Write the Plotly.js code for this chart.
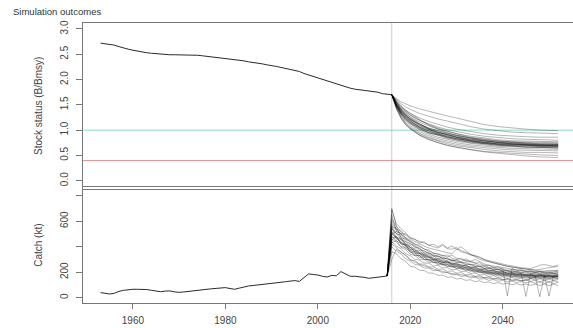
<!DOCTYPE html>
<html>
<head>
<meta charset="utf-8">
<script src="https://cdn.plot.ly/plotly-3.0.1.min.js"></script>
<style>html,body{margin:0;padding:0;background:#fff;}#chart{width:573px;height:328px;}</style>
</head>
<body>
<div id="chart"></div>
<script>
// ---------------- DATA ----------------
const histYears = [1953,1954,1955,1956,1957,1958,1959,1960,1961,1962,1963,1964,1965,1966,1967,1968,1969,1970,1971,1972,1973,1974,1975,1976,1977,1978,1979,1980,1981,1982,1983,1984,1985,1986,1987,1988,1989,1990,1991,1992,1993,1994,1995,1996,1997,1998,1999,2000,2001,2002,2003,2004,2005,2006,2007,2008,2009,2010,2011,2012,2013,2014,2015,2016];
const histStatus = [2.72,2.71,2.70,2.68,2.65,2.62,2.60,2.58,2.56,2.54,2.53,2.52,2.51,2.50,2.49,2.49,2.49,2.49,2.49,2.49,2.49,2.48,2.47,2.46,2.45,2.44,2.43,2.42,2.41,2.40,2.38,2.37,2.35,2.34,2.32,2.31,2.29,2.28,2.26,2.24,2.22,2.20,2.18,2.16,2.12,2.09,2.06,2.04,2.01,1.98,1.95,1.92,1.89,1.86,1.83,1.81,1.80,1.79,1.78,1.77,1.75,1.72,1.71,1.70];
// catch history 1953-2015
const histCatch = [40,32,29,35,50,58,64,66,66,66,64,58,50,47,52,53,46,42,45,50,54,56,60,66,70,73,77,79,72,66,75,85,92,96,100,105,104,112,115,118,125,130,134,128,160,186,182,178,168,162,175,172,205,186,168,168,165,160,152,157,160,162,170];

const projStatusYears = [2016,2017,2018,2019,2020,2022,2024,2026,2028,2030,2033,2036,2039,2042,2045,2048,2052];
const projStatus = [
 [1.70,1.62,1.56,1.52,1.48,1.42,1.37,1.32,1.28,1.24,1.17,1.11,1.07,1.04,1.02,1.00,0.99],
 [1.70,1.60,1.52,1.46,1.41,1.33,1.27,1.22,1.18,1.13,1.07,1.02,0.99,0.96,0.95,0.94,0.93],
 [1.70,1.57,1.47,1.39,1.33,1.24,1.17,1.11,1.06,1.02,0.97,0.93,0.90,0.88,0.87,0.86,0.86],
 [1.70,1.55,1.44,1.36,1.29,1.19,1.12,1.06,1.01,0.97,0.92,0.88,0.85,0.83,0.82,0.81,0.80],
 [1.70,1.54,1.42,1.33,1.26,1.16,1.08,1.02,0.97,0.93,0.88,0.84,0.81,0.79,0.78,0.77,0.77],
 [1.70,1.52,1.40,1.30,1.23,1.12,1.04,0.98,0.93,0.89,0.84,0.80,0.78,0.76,0.75,0.74,0.74],
 [1.70,1.51,1.38,1.28,1.20,1.09,1.01,0.95,0.90,0.86,0.81,0.78,0.75,0.73,0.72,0.71,0.71],
 [1.70,1.50,1.36,1.26,1.18,1.06,0.98,0.92,0.87,0.83,0.79,0.75,0.73,0.71,0.70,0.69,0.69],
 [1.70,1.49,1.34,1.23,1.15,1.03,0.95,0.89,0.84,0.80,0.76,0.73,0.70,0.69,0.68,0.67,0.67],
 [1.70,1.48,1.32,1.21,1.12,1.00,0.92,0.86,0.82,0.78,0.74,0.71,0.68,0.67,0.66,0.65,0.65],
 [1.70,1.47,1.30,1.18,1.09,0.97,0.89,0.83,0.79,0.75,0.71,0.68,0.66,0.64,0.63,0.63,0.62],
 [1.70,1.45,1.28,1.15,1.06,0.94,0.86,0.80,0.76,0.72,0.68,0.65,0.63,0.61,0.60,0.60,0.59],
 [1.70,1.44,1.26,1.13,1.04,0.92,0.84,0.78,0.73,0.69,0.65,0.62,0.59,0.57,0.56,0.56,0.55],
 [1.70,1.43,1.24,1.11,1.03,0.90,0.81,0.75,0.70,0.66,0.62,0.58,0.56,0.54,0.52,0.51,0.50],
 [1.70,1.42,1.23,1.10,1.02,0.90,0.82,0.75,0.70,0.66,0.61,0.57,0.54,0.51,0.49,0.47,0.46],
 [1.70,1.53,1.41,1.32,1.25,1.13,1.03,0.96,0.91,0.88,0.82,0.79,0.76,0.75,0.73,0.72,0.72],
 [1.70,1.56,1.45,1.37,1.30,1.20,1.10,1.02,0.95,0.90,0.84,0.79,0.76,0.74,0.72,0.71,0.70],
 [1.70,1.50,1.37,1.28,1.21,1.11,1.04,0.99,0.94,0.90,0.85,0.81,0.78,0.76,0.74,0.73,0.72],
 [1.70,1.46,1.31,1.20,1.13,1.02,0.95,0.90,0.86,0.82,0.77,0.73,0.70,0.68,0.67,0.66,0.66],
 [1.70,1.58,1.48,1.40,1.33,1.21,1.11,1.04,0.98,0.93,0.86,0.82,0.79,0.77,0.76,0.75,0.75],
 [1.70,1.49,1.35,1.25,1.17,1.07,1.00,0.94,0.89,0.85,0.80,0.76,0.73,0.72,0.71,0.70,0.69],
 [1.70,1.52,1.39,1.29,1.22,1.10,1.02,0.96,0.91,0.86,0.80,0.76,0.74,0.72,0.71,0.70,0.70],
 [1.70,1.48,1.33,1.24,1.16,1.05,0.99,0.92,0.88,0.83,0.79,0.74,0.72,0.70,0.70,0.68,0.68],
 [1.70,1.51,1.36,1.25,1.19,1.06,0.97,0.93,0.86,0.84,0.78,0.76,0.72,0.71,0.69,0.69,0.68],
 [1.70,1.47,1.34,1.22,1.14,1.04,0.94,0.91,0.85,0.81,0.75,0.74,0.71,0.69,0.66,0.66,0.64],
 [1.70,1.55,1.40,1.31,1.22,1.12,1.02,0.95,0.92,0.86,0.82,0.78,0.75,0.73,0.72,0.70,0.71]
];

const projCatchYears = [2016,2017,2018,2019,2020,2021,2022,2023,2024,2025,2026,2027,2028,2029,2030,2031,2032,2033,2034,2035,2036,2037,2038,2039,2040,2041,2042,2043,2044,2045,2046,2047,2048,2049,2050,2051,2052];
const projCatch = [
 [690,580,540,510,470, 455,440,425,410,400, 390,410,385,380,395, 360,350,335,330,320, 300,290,285,270,265, 255,250,240,235,232, 228,240,255,260,250, 245,258],
 [620,560,520,490,460, 440,420,405,390,380, 370,365,350,345,380, 400,370,340,320,300, 290,280,270,265,255, 248,240,232,228,225, 220,218,222,230,236, 240,245],
 [580,530,500,470,440, 420,400,380,365,350, 340,330,320,335,310, 300,290,285,300,280, 265,255,248,240,235, 228,222,218,214,210, 208,206,204,210,215, 212,208],
 [560,500,490,440,425, 395,385,350,350,325, 330,305,310,290,298, 280,305,285,275,255, 255,238,240,226,228, 215,218,206,212,202, 206,196,202,192,198, 190,195],
 [540,505,455,440,395, 385,352,350,325,328, 305,305,285,290,275, 275,258,262,244,245, 230,232,218,222,210, 214,203,208,196,202, 192,199,190,196,186, 193,185],
 [520,470,455,410,395, 362,355,328,325,298, 300,280,282,265,266, 250,252,235,236,220, 224,210,214,200,204, 192,196,185,190,180, 186,176,183,174,180, 172,179],
 [500,470,428,410,368, 360,330,325,298,300, 280,280,262,265,246, 250,232,235,216,220, 204,208,194,200,186, 191,180,185,174,180, 170,177,168,175,166, 173,167],
 [480,445,425,385,365, 333,328,302,300,279, 280,260,263,245,248, 230,233,214,218,200, 205,190,194,181,186, 173,179,167,174,163, 170,161,168,159,167, 158,165],
 [460,435,395,378,340, 330,302,300,277,279, 258,261,243,246,229, 232,214,217,199,203, 187,191,177,182,169, 174,162,168,157,164, 153,160,151,159,150, 158,151],
 [440,405,385,345,330, 300,295,272,270,250, 252,234,236,219,222, 205,208,191,194,178, 181,167,172,159,164, 152,158,146,153,142, 149,139,147,138,145, 136,144],
 [420,395,355,336,295, 290,265,263,242,242, 223,225,207,210,193, 196,180,184,168,172, 157,162,148,155,142, 149,136,144,132,139, 128,137,126,135,125, 133,125],
 [400,365,345,305,288, 260,255,233,232,212, 213,195,197,180,183, 167,171,155,160,145, 150,136,142,129,136, 123,131,119,127,116, 125,114,123,112,122, 111,121],
 [360,345,305,285,245, 240,215,213,193,193, 175,177,160,163,147, 151,136,141,126,132, 118,124,111,119,106, 114,102,110,99,107, 97,107,96,106,95, 105,95],
 [600,540,520,470,450, 420,410,380,375,350, 345,330,335,310,300, 310,285,280,270,275, 250,255,235,240,225, 15,230,215,220,205, 210,200,205,195,200, 190,198],
 [500,520,470,460,420, 410,375,370,345,340, 320,318,300,300,282, 280,265,262,248,246, 232,232,220,220,208, 210,198,200,190,10, 185,190,180,186,176, 184,178],
 [450,480,430,420,380, 375,345,340,318,312, 296,292,278,275,262, 260,248,245,233,230, 218,218,206,206,196, 198,188,190,180,182, 174,176,8,172,168, 172,166],
 [650,520,500,460,440, 400,390,360,355,330, 325,310,310,290,292, 275,276,258,260,245, 246,230,232,218,220, 207,210,198,201,190, 194,184,188,178,12, 176,180],
 [560,540,500,500,470, 460,430,440,410,420, 400,420,390,405,380, 370,355,340,330,310, 300,285,275,262,255, 245,240,232,225,220, 215,212,208,205,204, 210,215],
 [300,380,360,330,300, 280,260,250,235,225, 215,205,200,190,185, 178,175,168,165,160, 155,152,148,146,142, 140,138,136,135,134, 150,160,170,180,190, 200,210],
 [700,560,470,420,395, 360,345,330,320,300, 290,275,280,262,255, 240,238,228,222,210, 205,198,196,190,188, 182,185,176,180,172, 178,168,175,166,172, 165,170],
 [510,460,440,400,380, 350,345,320,315,295, 290,272,275,255,258, 240,242,225,228,212, 214,200,204,190,195, 182,188,176,182,171, 178,168,175,165,172, 163,170],
 [470,480,420,415,355, 350,315,318,288,292, 265,270,248,252,232, 236,218,222,205,210, 195,199,186,190,177, 182,170,176,165,171, 161,168,158,166,156, 164,156],
 [430,450,400,395,360, 335,330,300,300,275, 278,255,258,238,242, 222,226,207,212,195, 198,182,188,172,178, 164,171,158,165,153, 160,150,157,148,156, 146,154],
 [550,470,465,420,410, 370,372,335,338,305, 310,285,290,265,272, 250,256,236,242,222, 228,210,216,200,206, 190,197,182,190,176, 184,170,178,166,175, 163,172]
];

const refLevels = [1.0, 0.4];
const refColors = ['rgba(40,200,130,0.55)', 'rgba(210,60,60,0.55)'];
const projStartYear = 2016;
const xTicks = [1960,1980,2000,2020,2040];
const statusTicks = [0,0.5,1,1.5,2,2.5,3];
const statusTickText = ['0.0','0.5','1.0','1.5','2.0','2.5','3.0'];
const catchTicks = [0,200,400,600,800];
const catchTickText = ['0','200','','600',''];

// ---------------- TRACES ----------------
const simLine = {color:'rgba(0,0,0,0.36)', width:0.8};
const traces = [];
projStatus.forEach(s => traces.push({x:projStatusYears, y:s, xaxis:'x2', yaxis:'y2', mode:'lines', line:simLine, hoverinfo:'skip'}));
traces.push({x:histYears, y:histStatus, xaxis:'x2', yaxis:'y2', mode:'lines', line:{color:'#2a2a2a', width:1}});
const lastHistYear = histYears[histCatch.length-1];
const lastHistCatch = histCatch[histCatch.length-1];
projCatch.forEach(c => traces.push({x:[lastHistYear].concat(projCatchYears), y:[lastHistCatch].concat(c), xaxis:'x', yaxis:'y', mode:'lines', line:simLine, hoverinfo:'skip'}));
traces.push({x:histYears.slice(0, histCatch.length), y:histCatch, xaxis:'x', yaxis:'y', mode:'lines', line:{color:'#2a2a2a', width:1}});

const shapes = [
  {type:'line', xref:'x', yref:'paper', x0:projStartYear, x1:projStartYear, y0:0, y1:1, line:{color:'#cccccc', width:1}, layer:'below'}
];
refLevels.forEach((v,i) => shapes.push({type:'line', xref:'paper', yref:'y2', x0:0, x1:1, y0:v, y1:v, line:{color:refColors[i], width:1}, layer:'below'}));

const font = {family:'Liberation Sans, Arial, sans-serif', size:10, color:'#444'};
const axCommon = {showgrid:false, zeroline:false, showline:true, linecolor:'#777', linewidth:1, mirror:true, tickcolor:'#777'};

const layout = {
  width:573, height:328,
  margin:{l:83, r:0, t:23, b:25},
  paper_bgcolor:'#fff', plot_bgcolor:'rgba(0,0,0,0)',
  showlegend:false, font:font,
  title:{text:'Simulation outcomes', x:13/573, xanchor:'left', xref:'container', y:1-12/328, yanchor:'middle', yref:'container', font:{family:'Liberation Sans, Arial, sans-serif', size:9.5, color:'#333'}},
  xaxis: Object.assign({}, axCommon, {domain:[0,1], anchor:'y', range:[1949.2,2055.2], tickvals:xTicks, ticks:'outside', ticklen:5, ticklabelstandoff:3, tickfont:font}),
  xaxis2: Object.assign({}, axCommon, {domain:[0,1], anchor:'y2', range:[1949.2,2055.2], showticklabels:false, ticks:'', matches:'x'}),
  yaxis: Object.assign({}, axCommon, {domain:[0,0.4132], anchor:'x', range:[-41.6,866], tickvals:catchTicks, ticktext:catchTickText, ticks:'outside', ticklen:6, tickangle:-90, ticklabelstandoff:4, tickfont:font,
    title:{text:'Catch (kt)', font:font, standoff:14}}),
  yaxis2: Object.assign({}, axCommon, {domain:[0.4082,1], anchor:'x2', range:[-0.158,3.118], tickvals:statusTicks, ticktext:statusTickText, ticks:'outside', ticklen:6, tickangle:-90, ticklabelstandoff:4, tickfont:font,
    title:{text:'Stock status (B/Bmsy)', font:font, standoff:14}}),
  shapes:shapes
};

Plotly.newPlot('chart', traces, layout, {staticPlot:true, displayModeBar:false});
</script>
</body>
</html>
